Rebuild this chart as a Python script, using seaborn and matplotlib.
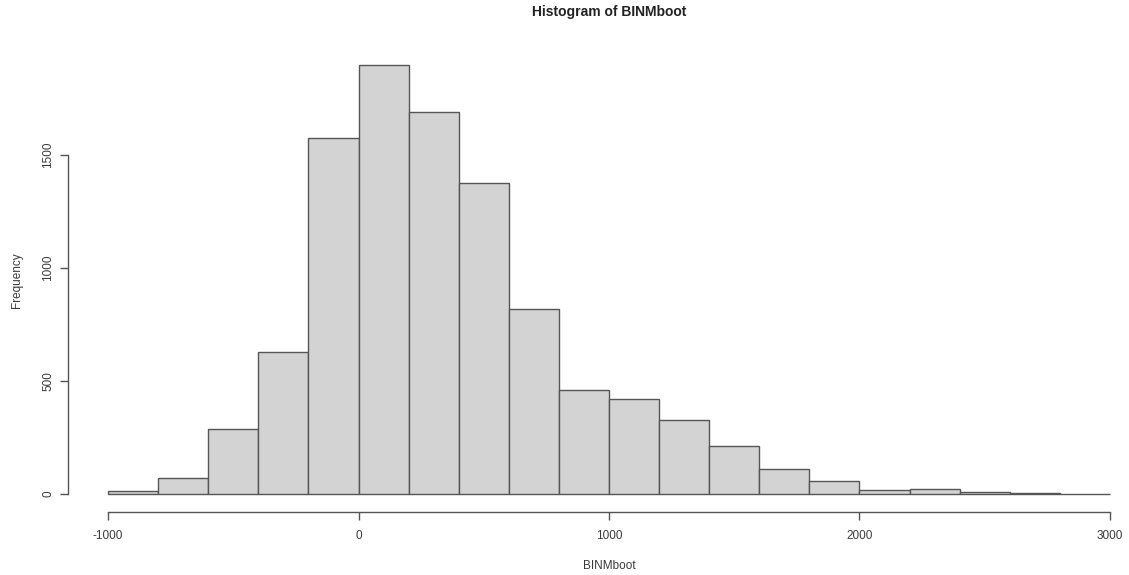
import numpy as np
import pandas as pd
import seaborn as sns
import matplotlib.pyplot as plt

# bin edges of the R histogram (breaks every 200)
bin_left = [-1000, -800, -600, -400, -200, 0, 200, 400, 600, 800,
            1000, 1200, 1400, 1600, 1800, 2000, 2200, 2400, 2600, 2800]
bin_width = 200
counts = [12, 69, 288, 628, 1577, 1898, 1689, 1376, 817, 459,
          422, 327, 214, 110, 58, 16, 20, 8, 4, 0]

x_ticks = [-1000, 0, 1000, 2000, 3000]
y_ticks = [0, 500, 1000, 1500]

sns.set_style('white')
plt.rcParams['font.family'] = ['Liberation Sans', 'DejaVu Sans']
plt.rcParams['axes.unicode_minus'] = False

df = pd.DataFrame({'mid': np.array(bin_left) + bin_width / 2, 'n': counts})
edges = list(bin_left) + [bin_left[-1] + bin_width]

fig = plt.figure(figsize=(11.29, 5.75), dpi=100)
ax = fig.add_axes([68 / 1129, 1 - 511 / 575, (1150 - 68) / 1129, (511 - 48) / 575])

sns.histplot(data=df, x='mid', weights='n', bins=edges, ax=ax,
             color='#d3d3d3', edgecolor='#555555', linewidth=1, alpha=1)

ax.set_xlim(-1160, 3160)
ax.set_ylim(-76, 1974)

# R style axes: only the tick range is drawn
for s in ['top', 'right']:
  ax.spines[s].set_visible(False)
ax.spines['left'].set_bounds(0, 1500)
ax.spines['bottom'].set_bounds(-1000, 3000)
ax.spines['bottom'].set_position(('outward', 1))
for s in ['left', 'bottom']:
  ax.spines[s].set_color('#555555')
  ax.spines[s].set_linewidth(1)

ax.set_xticks(x_ticks)
ax.set_yticks(y_ticks)
ax.tick_params(axis='both', bottom=True, left=True, direction='out', length=6, width=1,
               color='#555555', labelsize=8.5, labelcolor='#3a3a3a', pad=7)
ax.tick_params(axis='y', pad=4)
for lbl in ax.get_yticklabels():
  lbl.set_rotation(90)
  lbl.set_va('center')

ax.set_xlabel('')
ax.set_ylabel('')
fig.text(609 / 1129, 1 - 566 / 575, 'BINMboot', ha='center', va='center',
         fontsize=8.5, color='#3a3a3a')
fig.text(17 / 1129, 1 - 280 / 575, 'Frequency', ha='center', va='center',
         rotation=90, fontsize=8.5, color='#3a3a3a')
fig.text(609 / 1129, 1 - 12 / 575, 'Histogram of BINMboot', ha='center', va='center',
         fontsize=10, fontweight='bold', color='#222222')

plt.savefig('out.png', dpi=100)
